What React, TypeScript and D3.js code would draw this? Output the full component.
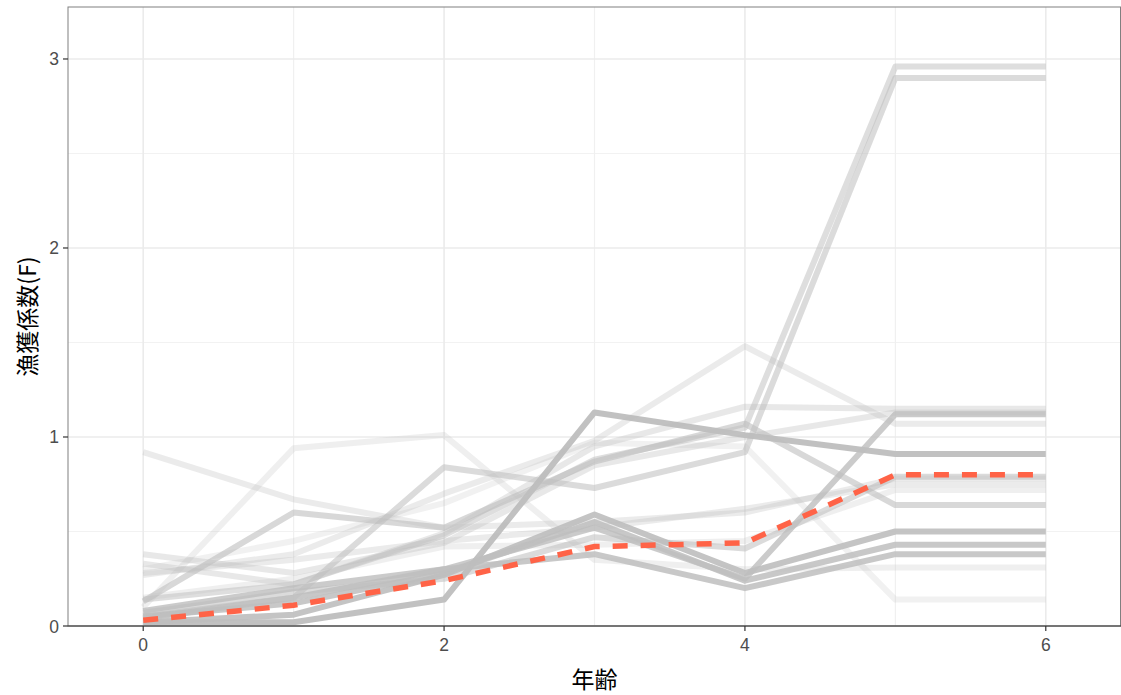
import React from 'react';
import * as d3 from 'd3';

// ages on the x axis
const ages = [0, 1, 2, 3, 4, 5, 6];

// F-at-age for each simulated year (age 6 = age 5, plus group)
const sim01 = [0.14, 0.22, 0.48, 0.88, 1.05, 2.96, 2.96];
const sim02 = [0.05, 0.15, 0.84, 0.73, 0.92, 2.9, 2.9];
const sim03 = [0.02, 0.02, 0.14, 1.13, 1.01, 0.91, 0.91];
const sim04 = [0.08, 0.2, 0.3, 0.52, 0.25, 1.12, 1.12];
const sim05 = [0.92, 0.67, 0.52, 0.55, 0.6, 0.78, 0.78];
const sim06 = [0.1, 0.94, 1.01, 0.35, 0.3, 0.31, 0.31];
const sim07 = [0.27, 0.38, 0.7, 0.98, 1.48, 1.07, 1.07];
const sim08 = [0.3, 0.45, 0.65, 0.97, 0.95, 0.14, 0.14];
const sim09 = [0.13, 0.6, 0.52, 0.87, 1.07, 0.64, 0.64];
const sim10 = [0.38, 0.28, 0.44, 0.85, 1.0, 1.13, 1.13];
const sim11 = [0.33, 0.22, 0.49, 0.95, 1.16, 1.15, 1.15];
const sim12 = [0.02, 0.06, 0.27, 0.59, 0.28, 0.5, 0.5];
const sim13 = [0.05, 0.12, 0.28, 0.55, 0.24, 0.43, 0.43];
const sim14 = [0.04, 0.15, 0.3, 0.38, 0.2, 0.38, 0.38];
const sim15 = [0.07, 0.18, 0.25, 0.47, 0.41, 0.79, 0.79];
const sim16 = [0.28, 0.35, 0.45, 0.52, 0.62, 0.75, 0.75];
const sim17 = [0.15, 0.25, 0.42, 0.43, 0.45, 0.72, 0.72];

const simLines = [sim01, sim02, sim03, sim04, sim05, sim06, sim07, sim08, sim09,
  sim10, sim11, sim12, sim13, sim14, sim15, sim16, sim17];
const simAlpha = [0.5, 0.55, 0.95, 0.8, 0.3, 0.25, 0.3, 0.22, 0.6,
  0.35, 0.35, 0.9, 0.85, 0.85, 0.55, 0.3, 0.25];

// highlighted (current) F
const meanF = [0.03, 0.11, 0.24, 0.42, 0.44, 0.8, 0.8];

const xTicks = [0, 2, 4, 6];
const xMinor = [1, 3, 5];
const yTicks = [0, 1, 2, 3];
const yMinor = [0.5, 1.5, 2.5];

export default function App() {
  const W = 1121;
  const H = 695;
  const left = 68, right = 1121, top = 7, bottom = 626;

  const x = d3.scaleLinear().domain([-0.5, 6.5]).range([left, right]);
  const y = d3.scaleLinear().domain([0, 3.275]).range([bottom, top]);

  const line = d3
    .line<number>()
    .x((d, i) => x(ages[i]))
    .y((d) => y(d));

  const font = '"Liberation Sans", "Noto Sans CJK JP", sans-serif';
  const jpFont = '"Noto Sans CJK JP", sans-serif';

  return (
    <div style={{ position: 'fixed', left: 0, top: 0 }}>
      <svg width={W} height={H} style={{ display: 'block', background: '#fff' }}>
        <defs>
          <clipPath id='panel'>
            <rect x={left} y={top} width={right - left} height={bottom - top} />
          </clipPath>
        </defs>
        {/* grid */}
        {yMinor.map((v) => (
          <line key={'ym' + v} x1={left} x2={right} y1={y(v)} y2={y(v)} stroke='#f2f2f2' strokeWidth={1} />
        ))}
        {xMinor.map((v) => (
          <line key={'xm' + v} x1={x(v)} x2={x(v)} y1={top} y2={bottom} stroke='#f0f0f0' strokeWidth={1.2} />
        ))}
        {yTicks.map((v) => (
          <line key={'yg' + v} x1={left} x2={right} y1={y(v)} y2={y(v)} stroke='#ebebeb' strokeWidth={1.6} />
        ))}
        {xTicks.map((v) => (
          <line key={'xg' + v} x1={x(v)} x2={x(v)} y1={top} y2={bottom} stroke='#ebebeb' strokeWidth={1.6} />
        ))}

        <g clipPath='url(#panel)'>
          {simLines.map((s, i) => (
            <path
              key={'s' + i}
              d={line(s) || ''}
              fill='none'
              stroke='#bebebe'
              strokeOpacity={simAlpha[i]}
              strokeWidth={6}
              strokeLinejoin='round'
            />
          ))}
          <path
            d={line(meanF) || ''}
            fill='none'
            stroke='#ff6347'
            strokeWidth={5.5}
            strokeDasharray='15,13'
          />
        </g>

        {/* panel border */}
        <rect x={left} y={top} width={right - left - 0.5} height={bottom - top} fill='none' stroke='#808080' strokeWidth={1} />
        <line x1={left} x2={right} y1={bottom} y2={bottom} stroke='#333' strokeWidth={1.2} />

        {/* x axis */}
        {xTicks.map((v) => (
          <g key={'xt' + v}>
            <line x1={x(v)} x2={x(v)} y1={bottom} y2={bottom + 5} stroke='#333' strokeWidth={1.2} />
            <text x={x(v)} y={bottom + 25} textAnchor='middle' fontSize={17.5} fill='#4d4d4d' fontFamily={font}>
              {v}
            </text>
          </g>
        ))}
        {/* y axis */}
        {yTicks.map((v) => (
          <g key={'yt' + v}>
            <line x1={left - 5} x2={left} y1={y(v)} y2={y(v)} stroke='#333' strokeWidth={1.2} />
            <text x={left - 9} y={y(v) + 6.5} textAnchor='end' fontSize={17.5} fill='#4d4d4d' fontFamily={font}>
              {v}
            </text>
          </g>
        ))}

        <text x={(left + right) / 2} y={688} textAnchor='middle' fontSize={23} fill='#000' fontFamily={jpFont}>
          年齢
        </text>
        <text
          transform={`translate(36, ${(top + bottom) / 2}) rotate(-90)`}
          textAnchor='middle'
          fontSize={23}
          fill='#000'
          fontFamily={jpFont}
        >
          漁獲係数(F)
        </text>
      </svg>
    </div>
  );
}
